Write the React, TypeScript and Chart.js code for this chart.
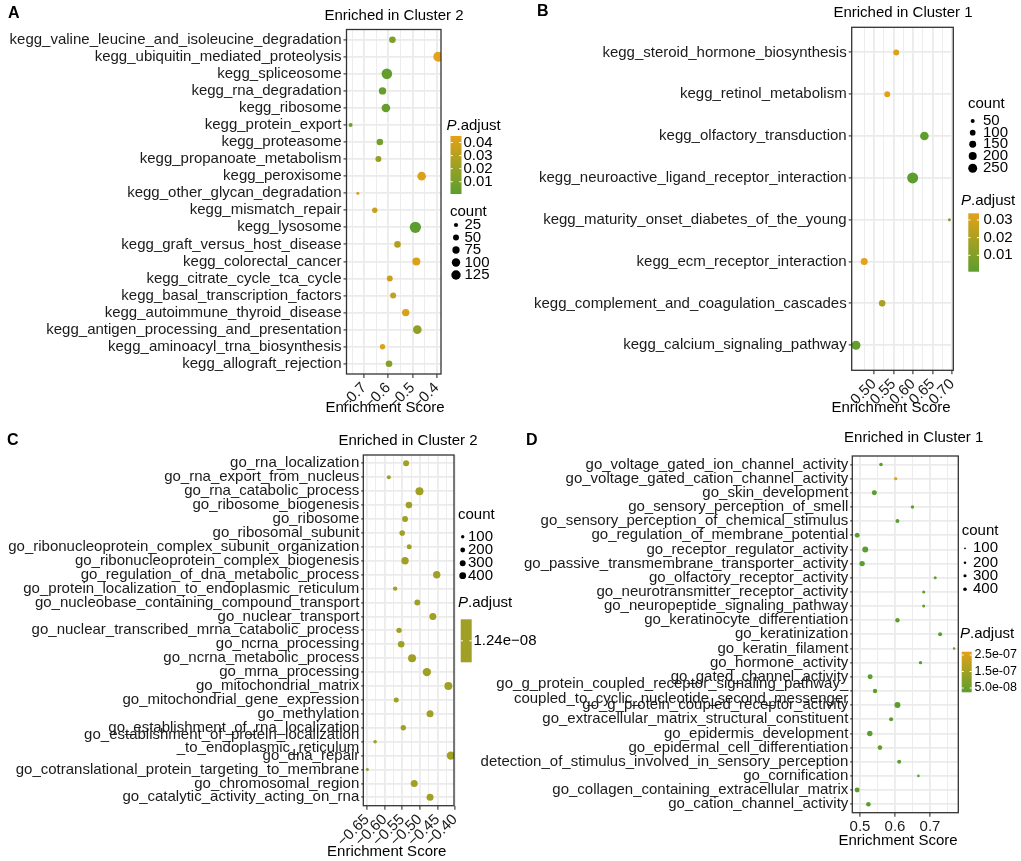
import React, { useEffect, useRef } from "react";
import { Chart, registerables } from "chart.js";
Chart.register(...registerables);

const W = 1021;
const H = 861;
const FONT = '"Liberation Sans", Arial, Helvetica, sans-serif';

// ---------------- Panel A (KEGG, Cluster 2) ----------------
const aTerms = [
  "kegg_valine_leucine_and_isoleucine_degradation",
  "kegg_ubiquitin_mediated_proteolysis",
  "kegg_spliceosome",
  "kegg_rna_degradation",
  "kegg_ribosome",
  "kegg_protein_export",
  "kegg_proteasome",
  "kegg_propanoate_metabolism",
  "kegg_peroxisome",
  "kegg_other_glycan_degradation",
  "kegg_mismatch_repair",
  "kegg_lysosome",
  "kegg_graft_versus_host_disease",
  "kegg_colorectal_cancer",
  "kegg_citrate_cycle_tca_cycle",
  "kegg_basal_transcription_factors",
  "kegg_autoimmune_thyroid_disease",
  "kegg_antigen_processing_and_presentation",
  "kegg_aminoacyl_trna_biosynthesis",
  "kegg_allograft_rejection",
];
const aScore = [-0.583, -0.393, -0.606, -0.624, -0.61, -0.756, -0.635, -0.641, -0.462, -0.726, -0.656, -0.488, -0.562, -0.484, -0.594, -0.58, -0.528, -0.48, -0.624, -0.597];
const aCount = [62, 142, 159, 78, 105, 23, 62, 51, 105, 13, 41, 178, 62, 91, 51, 51, 78, 105, 41, 62];
const aPadj = [0.012, 0.045, 0.003, 0.004, 0.004, 0.007, 0.009, 0.021, 0.042, 0.04, 0.036, 0.0006, 0.029, 0.042, 0.037, 0.033, 0.041, 0.018, 0.043, 0.014];
const aXRange = [-0.773, -0.382];
const aXMajor = [-0.7, -0.6, -0.5, -0.4];
const aXMinor = [-0.75, -0.65, -0.55, -0.45];
const aCountBreaks = [25, 50, 75, 100, 125];
const aPadjBreaks = [0.04, 0.03, 0.02, 0.01];
const aPadjLabels = ["0.04", "0.03", "0.02", "0.01"];

// ---------------- Panel B (KEGG, Cluster 1) ----------------
const bTerms = [
  "kegg_steroid_hormone_biosynthesis",
  "kegg_retinol_metabolism",
  "kegg_olfactory_transduction",
  "kegg_neuroactive_ligand_receptor_interaction",
  "kegg_maturity_onset_diabetes_of_the_young",
  "kegg_ecm_receptor_interaction",
  "kegg_complement_and_coagulation_cascades",
  "kegg_calcium_signaling_pathway",
];
const bScore = [0.557, 0.534, 0.629, 0.599, 0.693, 0.475, 0.521, 0.454];
const bCount = [112, 110, 229, 375, 28, 152, 135, 251];
const bPadj = [0.032, 0.0335, 0.0015, 0.0007, 0.009, 0.0338, 0.02, 0.003];
const bXRange = [0.443, 0.703];
const bXMajor = [0.5, 0.55, 0.6, 0.65, 0.7];
const bXMinor = [0.475, 0.525, 0.575, 0.625, 0.675];
const bCountBreaks = [50, 100, 150, 200, 250];
const bPadjBreaks = [0.03, 0.02, 0.01];
const bPadjLabels = ["0.03", "0.02", "0.01"];

// ---------------- Panel C (GO, Cluster 2) ----------------
const cTerms = [
  "go_rna_localization",
  "go_rna_export_from_nucleus",
  "go_rna_catabolic_process",
  "go_ribosome_biogenesis",
  "go_ribosome",
  "go_ribosomal_subunit",
  "go_ribonucleoprotein_complex_subunit_organization",
  "go_ribonucleoprotein_complex_biogenesis",
  "go_regulation_of_dna_metabolic_process",
  "go_protein_localization_to_endoplasmic_reticulum",
  "go_nucleobase_containing_compound_transport",
  "go_nuclear_transport",
  "go_nuclear_transcribed_mrna_catabolic_process",
  "go_ncrna_processing",
  "go_ncrna_metabolic_process",
  "go_mrna_processing",
  "go_mitochondrial_matrix",
  "go_mitochondrial_gene_expression",
  "go_methylation",
  "go_establishment_of_rna_localization",
  "go_establishment_of_protein_localization\n_to_endoplasmic_reticulum",
  "go_dna_repair",
  "go_cotranslational_protein_targeting_to_membrane",
  "go_chromosomal_region",
  "go_catalytic_activity_acting_on_rna",
];
const cScore = [-0.539, -0.588, -0.501, -0.531, -0.542, -0.55, -0.53, -0.542, -0.452, -0.57, -0.507, -0.463, -0.559, -0.553, -0.522, -0.48, -0.419, -0.567, -0.471, -0.547, -0.627, -0.412, -0.649, -0.516, -0.471];
const cCount = [311, 138, 553, 377, 311, 271, 216, 474, 474, 167, 311, 424, 252, 377, 553, 610, 553, 216, 424, 252, 112, 610, 78, 424, 424];
const cPadj = [1.24e-8, 1.24e-8, 1.24e-8, 1.24e-8, 1.24e-8, 1.24e-8, 1.24e-8, 1.24e-8, 1.24e-8, 1.24e-8, 1.24e-8, 1.24e-8, 1.24e-8, 1.24e-8, 1.24e-8, 1.24e-8, 1.24e-8, 1.24e-8, 1.24e-8, 1.24e-8, 1.24e-8, 1.24e-8, 1.24e-8, 1.24e-8, 1.24e-8];
const cXRange = [-0.6605, -0.403];
const cXMajor = [-0.65, -0.6, -0.55, -0.5, -0.45, -0.4];
const cXMinor = [-0.625, -0.575, -0.525, -0.475, -0.425];
const cCountBreaks = [100, 200, 300, 400];
const cPadjBreaks = [1.24e-8];
const cPadjLabels = ["1.24e\u221208"];

// ---------------- Panel D (GO, Cluster 1) ----------------
const dTerms = [
  "go_voltage_gated_ion_channel_activity",
  "go_voltage_gated_cation_channel_activity",
  "go_skin_development",
  "go_sensory_perception_of_smell",
  "go_sensory_perception_of_chemical_stimulus",
  "go_regulation_of_membrane_potential",
  "go_receptor_regulator_activity",
  "go_passive_transmembrane_transporter_activity",
  "go_olfactory_receptor_activity",
  "go_neurotransmitter_receptor_activity",
  "go_neuropeptide_signaling_pathway",
  "go_keratinocyte_differentiation",
  "go_keratinization",
  "go_keratin_filament",
  "go_hormone_activity",
  "go_gated_channel_activity",
  "go_g_protein_coupled_receptor_signaling_pathway_\ncoupled_to_cyclic_nucleotide_second_messenger",
  "go_g_protein_coupled_receptor_activity",
  "go_extracellular_matrix_structural_constituent",
  "go_epidermis_development",
  "go_epidermal_cell_differentiation",
  "detection_of_stimulus_involved_in_sensory_perception",
  "go_cornification",
  "go_collagen_containing_extracellular_matrix",
  "go_cation_channel_activity",
];
const dScore = [0.56, 0.602, 0.541, 0.65, 0.607, 0.492, 0.515, 0.506, 0.715, 0.682, 0.682, 0.607, 0.729, 0.769, 0.673, 0.529, 0.543, 0.607, 0.589, 0.528, 0.557, 0.612, 0.667, 0.492, 0.524];
const dCount = [400, 357, 770, 357, 494, 770, 1111, 900, 278, 278, 278, 600, 494, 178, 357, 770, 600, 1111, 494, 900, 653, 494, 209, 770, 653];
const dPadj = [3.0e-8, 2.7e-7, 2.4e-8, 4.0e-8, 2.4e-8, 2.4e-8, 2.4e-8, 2.4e-8, 3.5e-8, 3.0e-8, 3.0e-8, 2.4e-8, 2.4e-8, 3.0e-8, 2.4e-8, 2.4e-8, 2.4e-8, 2.4e-8, 2.4e-8, 2.4e-8, 2.4e-8, 2.4e-8, 2.4e-8, 2.4e-8, 2.4e-8];
const dXRange = [0.478, 0.781];
const dXMajor = [0.5, 0.6, 0.7];
const dXMinor = [0.55, 0.65, 0.75];
const dCountBreaks = [100, 200, 300, 400];
const dPadjBreaks = [2.5e-7, 1.5e-7, 5.0e-8];
const dPadjLabels = ["2.5e-07", "1.5e-07", "5.0e-08"];

// ---------------- colours ----------------
const LOW = [92, 158, 46];
const HIGH = [228, 161, 25];
function mix(t: number) {
  const c = LOW.map((l, i) => Math.round(l + (HIGH[i] - l) * t));
  return `rgb(${c[0]},${c[1]},${c[2]})`;
}

const minus = (s: string) => s.replace("-", "\u2212");

const panels: any[] = [
  {
    letter: "A", title: "Enriched in Cluster 2",
    terms: aTerms, score: aScore, count: aCount, padj: aPadj,
    xRange: aXRange, major: aXMajor, minor: aXMinor,
    fmt: (v: number) => minus(v.toFixed(1)), rotate: 45,
    countBreaks: aCountBreaks, padjBreaks: aPadjBreaks, padjLabels: aPadjLabels,
    k: 0.42, lineHeight: 1.0, yTickLen: 3,
    box: { l: 346.5, t: 29.5, r: 441, b: 374 },
    lay: {
      letter: [8, 13.5], title: [394, 16], axis: [385, 408],
      countTitle: [450, 211.7], countY: [225, 237.5, 250, 262.5, 275], dotX: 456, labX: 464.5,
      padjTitle: [446.5, 126], bar: [450.5, 136, 11, 58], padjLabX: 463.5, padjFont: 15,
    },
  },
  {
    letter: "B", title: "Enriched in Cluster 1",
    terms: bTerms, score: bScore, count: bCount, padj: bPadj,
    xRange: bXRange, major: bXMajor, minor: bXMinor,
    fmt: (v: number) => v.toFixed(2), rotate: 45,
    countBreaks: bCountBreaks, padjBreaks: bPadjBreaks, padjLabels: bPadjLabels,
    k: 0.284, lineHeight: 1.0, yTickLen: 3,
    box: { l: 851.7, t: 27.3, r: 953.3, b: 370.3 },
    lay: {
      letter: [537, 12], title: [903, 13], axis: [891, 408.3],
      countTitle: [968, 104], countY: [121, 132.7, 144.3, 156, 168.3], dotX: 972.7, labX: 983,
      padjTitle: [961, 201], bar: [968.3, 213.3, 10.7, 58.4], padjLabX: 983.5, padjFont: 15,
    },
  },
  {
    letter: "C", title: "Enriched in Cluster 2",
    terms: cTerms, score: cScore, count: cCount, padj: cPadj,
    xRange: cXRange, major: cXMajor, minor: cXMinor,
    fmt: (v: number) => minus(v.toFixed(2)), rotate: 45,
    countBreaks: cCountBreaks, padjBreaks: cPadjBreaks, padjLabels: cPadjLabels,
    k: 0.17, lineHeight: 0.85, yTickLen: 2,
    box: { l: 363.3, t: 455, r: 454, b: 805.7 },
    lay: {
      letter: [7, 440.5], title: [408, 440.5], axis: [386.7, 851.7],
      countTitle: [458, 515], countY: [536.7, 550, 563.3, 575.7], dotX: 462.7, labX: 468,
      padjTitle: [458, 602.5], bar: [460.7, 619.3, 11, 43], padjLabX: 473.5, padjFont: 15,
    },
  },
  {
    letter: "D", title: "Enriched in Cluster 1",
    terms: dTerms, score: dScore, count: dCount, padj: dPadj,
    xRange: dXRange, major: dXMajor, minor: dXMinor,
    fmt: (v: number) => v.toFixed(1), rotate: 0,
    countBreaks: dCountBreaks, padjBreaks: dPadjBreaks, padjLabels: dPadjLabels,
    k: 0.09, lineHeight: 1.0, yTickLen: 2,
    box: { l: 852.3, t: 456, r: 958.3, b: 812.7 },
    lay: {
      letter: [526, 440.5], title: [913.7, 438], axis: [898, 840.7],
      countTitle: [961.7, 531], countY: [548.3, 562.7, 575.7, 589.3], dotX: 965, labX: 973,
      padjTitle: [960, 634], bar: [961.7, 651.7, 10, 40.6], padjLabX: 974.5, padjFont: 12.5,
    },
  },
];

function decor(p: any, tOf: (v: number) => number) {
  return {
    id: "decor",
    afterDatasetsDraw(chart: any) {
      const { ctx, chartArea: a } = chart;
      ctx.save();
      ctx.strokeStyle = "#333333";
      ctx.lineWidth = 1.3;
      ctx.strokeRect(a.left, a.top, a.right - a.left, a.bottom - a.top);
      ctx.restore();
    },
    afterDraw(chart: any) {
      const ctx = chart.ctx;
      const L = p.lay;
      ctx.save();
      ctx.fillStyle = "#000";
      ctx.textBaseline = "middle";
      ctx.textAlign = "left";
      ctx.font = `bold 16px ${FONT}`;
      ctx.fillText(p.letter, L.letter[0], L.letter[1]);
      ctx.font = `15px ${FONT}`;
      ctx.textAlign = "center";
      ctx.fillText(p.title, L.title[0], L.title[1]);
      ctx.fillText("Enrichment Score", L.axis[0], L.axis[1]);
      ctx.textAlign = "left";
      // size legend
      ctx.fillText("count", L.countTitle[0], L.countTitle[1]);
      p.countBreaks.forEach((b: number, i: number) => {
        ctx.beginPath();
        ctx.arc(L.dotX, L.countY[i], p.k * Math.sqrt(b), 0, Math.PI * 2);
        ctx.fill();
        ctx.fillText(String(b), L.labX, L.countY[i]);
      });
      // colour legend title
      ctx.font = `italic 15px ${FONT}`;
      ctx.fillText("P", L.padjTitle[0], L.padjTitle[1]);
      const pw = ctx.measureText("P").width;
      ctx.font = `15px ${FONT}`;
      ctx.fillText(".adjust", L.padjTitle[0] + pw, L.padjTitle[1]);
      // colour bar
      const [bx, by, bw, bh] = L.bar;
      const g = ctx.createLinearGradient(0, by + bh, 0, by);
      for (let s = 0; s <= 10; s++) {
        const t = s / 10;
        g.addColorStop(t, p.single ? mix(0.5) : mix(t));
      }
      ctx.fillStyle = g;
      ctx.fillRect(bx, by, bw, bh);
      ctx.fillStyle = "#000";
      ctx.font = `${L.padjFont}px ${FONT}`;
      ctx.strokeStyle = "#ffffff";
      ctx.lineWidth = 1;
      p.padjBreaks.forEach((v: number, i: number) => {
        const y = by + bh - tOf(v) * bh;
        ctx.beginPath();
        ctx.moveTo(bx, y);
        ctx.lineTo(bx + bw * 0.2, y);
        ctx.moveTo(bx + bw * 0.8, y);
        ctx.lineTo(bx + bw, y);
        ctx.stroke();
        ctx.fillText(p.padjLabels[i], L.padjLabX, y);
      });
      ctx.restore();
    },
  };
}

function buildPanel(canvas: HTMLCanvasElement, p: any) {
  const n = p.terms.length;
  const pMin = Math.min(...p.padj);
  const pMax = Math.max(...p.padj);
  p.single = !(pMax > pMin);
  const tOf = (v: number) => (pMax > pMin ? (v - pMin) / (pMax - pMin) : 0.5);
  const isMajor = (v: any) => typeof v === "number" && p.major.some((m: number) => Math.abs(m - v) < 1e-9);
  const box = p.box;
  const Y_W = box.l;
  const X_H = H - box.b;
  const data = p.terms.map((_: string, i: number) => ({ x: p.score[i], y: i, r: p.k * Math.sqrt(p.count[i]) }));
  const colors = p.padj.map((v: number) => mix(tOf(v)));
  const xTicks = [...p.major, ...p.minor].sort((a: number, b: number) => a - b);
  return new Chart(canvas, {
    type: "bubble",
    data: {
      datasets: [
        {
          data,
          backgroundColor: colors,
          borderWidth: 0,
          hoverBorderWidth: 0,
          hoverRadius: 0,
        } as any,
      ],
    },
    options: {
      responsive: false,
      maintainAspectRatio: false,
      animation: false,
      events: [],
      layout: {
        autoPadding: false,
        padding: { left: 0, top: box.t, right: W - box.r, bottom: 0 },
      },
      plugins: { legend: { display: false }, tooltip: { enabled: false }, title: { display: false } },
      scales: {
        x: {
          type: "linear",
          position: "bottom",
          min: p.xRange[0],
          max: p.xRange[1],
          afterBuildTicks: (s: any) => {
            s.ticks = xTicks.map((v: number) => ({ value: v }));
          },
          afterFit: (s: any) => {
            s.height = X_H;
          },
          border: { display: false },
          grid: {
            color: "#EBEBEB",
            lineWidth: (c: any) => (isMajor(c.tick && c.tick.value) ? 1.8 : 0.9),
            tickColor: (c: any) => (isMajor(c.tick && c.tick.value) ? "#333333" : "rgba(0,0,0,0)"),
            tickLength: 4,
            tickWidth: 1.1,
          },
          ticks: {
            autoSkip: false,
            minRotation: p.rotate,
            maxRotation: p.rotate,
            padding: 1,
            color: "#1a1a1a",
            font: { family: FONT, size: 15 },
            callback: (v: any) => (isMajor(+v) ? p.fmt(+v) : ""),
          },
        },
        y: {
          type: "linear",
          min: -0.6,
          max: n - 0.4,
          reverse: true,
          afterBuildTicks: (s: any) => {
            s.ticks = p.terms.map((_: string, i: number) => ({ value: i }));
          },
          afterFit: (s: any) => {
            s.width = Y_W;
          },
          border: { display: false },
          grid: { color: "#EBEBEB", lineWidth: 1.8, tickColor: "#333333", tickLength: p.yTickLen, tickWidth: 1.1 },
          ticks: {
            autoSkip: false,
            padding: 2,
            color: "#1a1a1a",
            font: { family: FONT, size: 15, lineHeight: p.lineHeight },
            callback: (v: any) => {
              const s = p.terms[Math.round(+v)] || "";
              return s.indexOf("\n") >= 0 ? s.split("\n") : s;
            },
          },
        },
      },
    } as any,
    plugins: [decor(p, tOf)],
  });
}

export default function App() {
  const refs = useRef<(HTMLCanvasElement | null)[]>([]);
  useEffect(() => {
    document.body.style.margin = "0";
    document.body.style.background = "#ffffff";
    const charts = panels.map((p, i) => buildPanel(refs.current[i] as HTMLCanvasElement, p));
    return () => charts.forEach((c) => c.destroy());
  }, []);
  return (
    <div style={{ position: "relative", width: W, height: H, background: "#ffffff", overflow: "hidden" }}>
      {panels.map((p, i) => (
        <canvas
          key={p.letter}
          ref={(el) => {
            refs.current[i] = el;
          }}
          width={W}
          height={H}
          style={{ position: "absolute", left: 0, top: 0, width: W, height: H }}
        />
      ))}
    </div>
  );
}
